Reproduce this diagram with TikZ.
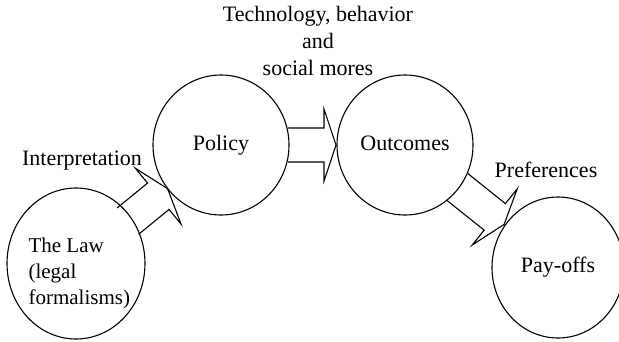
\documentclass[tikz,border=0pt]{standalone}
\usepackage{fontspec}
\setmainfont{Liberation Serif}
\usetikzlibrary{calc,shapes.geometric}

% breiter Blockpfeil von Kreis #1 zu Kreis #2
\newcommand{\bigarrow}[2]{%
  \coordinate (tail) at ($(#1.center)!67pt!(#2.center)$);
  \coordinate (neck) at ($(#2.center)!81pt!(#1.center)$);
  \coordinate (tip) at ($(#2.center)!69pt!(#1.center)$);
  \draw[blockarrow] ($(tail)!17pt!90:(#2.center)$) -- ($(neck)!17pt!90:(#2.center)$)
    -- ($(neck)!36pt!90:(#2.center)$) -- (tip) -- ($(neck)!36pt!-90:(#2.center)$)
    -- ($(neck)!17pt!-90:(#2.center)$) -- ($(tail)!17pt!-90:(#2.center)$);
}

\begin{document}
\begin{tikzpicture}[x=1pt, y=1pt, line width=1.1pt,
  every node/.style={font=\fontsize{22}{26}\selectfont, inner sep=0pt},
  circ/.style={ellipse, draw, minimum width=136pt, minimum height=140pt, text height=15pt, text depth=5pt},
  blockarrow/.style={line join=miter}]
\useasboundingbox (0,0) rectangle (619,-341);
% Kreise
\node[circ, minimum width=138pt, minimum height=151pt] (law) at (76,-263.5) {};
\node[anchor=north west, align=left, font=\fontsize{21}{26}\selectfont] (lawtext) at (28,-237) {The Law\\(legal\\formalisms)};
\node[circ] (policy) at (221,-145) {Policy};
\node[circ] (outcomes) at (405,-145) {Outcomes};
\node[circ, minimum width=132pt, minimum height=141pt] (payoffs) at (558,-267.5) {Pay-offs};
% Pfeile
\bigarrow{law}{policy}
\bigarrow{policy}{outcomes}
\bigarrow{outcomes}{payoffs}
% Beschriftungen
\node (interp) at (82,-161) {Interpretation};
\node[anchor=north, align=center, font=\fontsize{22}{27}\selectfont] (tech) at (318,-6) {Technology, behavior\\and\\social mores};
\node (pref) at (546,-170) {Preferences};
\end{tikzpicture}
\end{document}
